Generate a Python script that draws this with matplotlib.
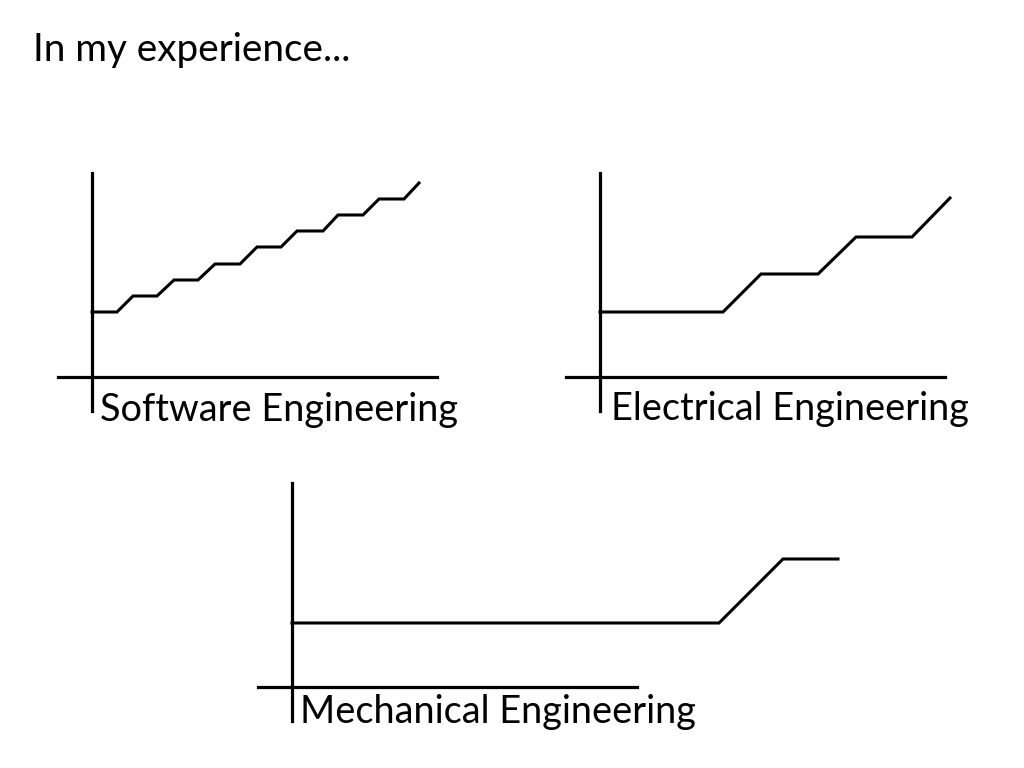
import matplotlib.pyplot as plt

plt.rcParams['font.family'] = ['Lato', 'DejaVu Sans']

# Career progression sketches (x = time, y = level), units measured off the slide
title = "In my experience..."

sw_label = "Software Engineering"
sw_x = [0, 25, 41, 65, 82, 106, 123, 148, 165, 189, 205, 231, 246, 271, 287, 312, 327]
sw_y = [65, 65, 81, 81, 97, 97, 113, 113, 130, 130, 146, 146, 162, 162, 178, 178, 194]

ee_label = "Electrical Engineering"
ee_x = [0, 123, 161, 218, 256, 312, 350]
ee_y = [65, 65, 103, 103, 140, 140, 179]

me_label = "Mechanical Engineering"
me_x = [0, 427, 491, 546]
me_y = [64, 64, 128, 128]

W, H = 1024, 768
fig = plt.figure(figsize=(W / 100, H / 100), dpi=100)
fig.patch.set_facecolor("white")


# Function to draw one hand-drawn style panel with its origin at pixel (ox, oy)
def make_panel(ox, oy, xs, ys, label, label_dx, label_dy):
    left, right, up, down = 34, 345, 204, 34
    ax = fig.add_axes([(ox - left) / W, 1 - (oy + down) / H,
                       (left + right) / W, (up + down) / H])
    ax.set_xlim(-left, right)
    ax.set_ylim(-down, up)
    ax.patch.set_alpha(0)
    for side in ["top", "right"]:
        ax.spines[side].set_visible(False)
    for side in ["left", "bottom"]:
        ax.spines[side].set_position(("data", 0))
        ax.spines[side].set_linewidth(2.3)
        ax.spines[side].set_color("black")
    ax.spines["left"].set_bounds(-down, up)
    ax.set_xticks([])
    ax.set_yticks([])
    ax.plot(xs, ys, color="black", linewidth=2.2, clip_on=False,
            solid_joinstyle="miter")
    ax.text(label_dx, -label_dy, label, fontsize=27.3, va="baseline", ha="left")
    return ax


make_panel(92, 377, sw_x, sw_y, sw_label, 8, 44)
make_panel(600, 377, ee_x, ee_y, ee_label, 11, 43)
make_panel(292, 687, me_x, me_y, me_label, 8, 36)

fig.text(33 / W, 1 - 61 / H, title, fontsize=27.8, va="baseline", ha="left")

fig.savefig("out.png", dpi=100)
